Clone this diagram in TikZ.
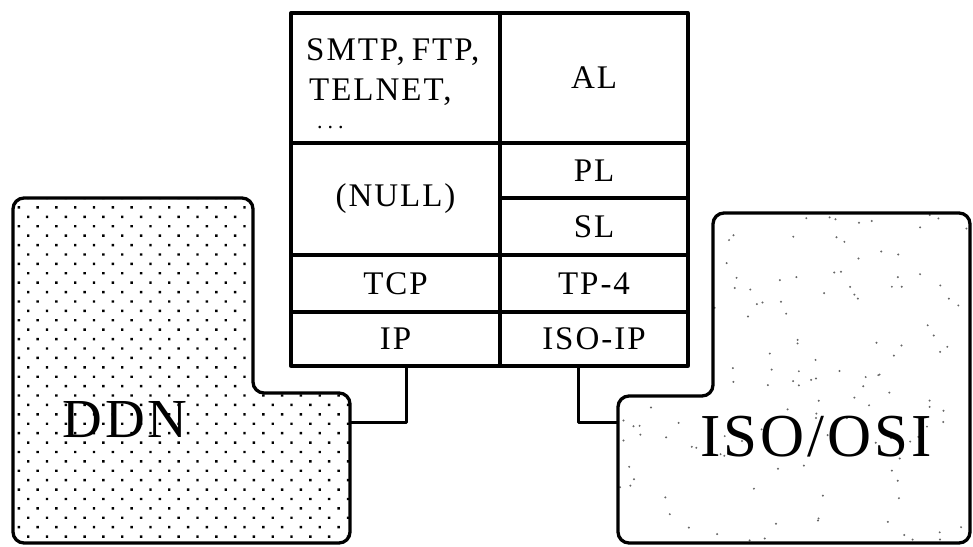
\documentclass[tikz,border=0pt]{standalone}
\usepackage{fontspec}
\setmainfont{Liberation Serif}
\newfontfamily\tabfont[LetterSpace=6]{Liberation Serif}
\newfontfamily\bigfont[LetterSpace=5]{Liberation Serif}
\usetikzlibrary{patterns.meta}
\tikzset{
  cell/.style 2 args={draw, line width=3.3pt, inner sep=0pt, outer sep=0pt,
    anchor=north west, minimum width=#1, minimum height=#2,
    font=\tabfont\fontsize{33}{36}\selectfont},
  celltext/.style={inner sep=0pt, anchor=north west, align=left, font=\tabfont\fontsize{33}{36}\selectfont},
  dotstext/.style={inner sep=0pt, anchor=base west, font=\tabfont\fontsize{22}{22}\selectfont},
  netshape/.style={line width=3.3pt, rounded corners=11pt},
  biglabel/.style={inner sep=0pt, font=\bigfont\fontsize{#1}{#1}\selectfont},
  link/.style={line width=3pt}
}
\begin{document}
\begin{tikzpicture}[x=1pt,y=-1pt,line join=round]
\useasboundingbox (0,0) rectangle (973,546);
\fill[white] (0,0) rectangle (973,546);

% DDN network
\path[netshape, pattern={Dots[distance=13.3pt, angle=45, radius=1.7pt]}]
  (13,370) -- (13,198) -- (253,198) -- (253,393) -- (350,393) -- (350,543) -- (13,543) -- cycle;
\draw[netshape]
  (13,370) -- (13,198) -- (253,198) -- (253,393) -- (350,393) -- (350,543) -- (13,543) -- cycle;
\node[biglabel=55, fill=white, fill opacity=0, text opacity=1] (ddn) at (125,420) {DDN};

% ISO/OSI network
\begin{scope}
  \clip[rounded corners=11pt] (970,370) -- (970,543) -- (618,543) -- (618,396) -- (713,396) -- (713,213) -- (970,213) -- cycle;
  \pgfmathsetseed{11}
  \foreach \i in {1,...,160}{
    \fill[black!60] ({618+rnd*352},{213+rnd*330}) circle (1.1);
  }
\end{scope}
\draw[netshape]
  (970,370) -- (970,543) -- (618,543) -- (618,396) -- (713,396) -- (713,213) -- (970,213) -- cycle;
\node[biglabel=61, fill=white, fill opacity=0, text opacity=1] (iso) at (816,437) {ISO/OSI};

% protocol table
\node[cell={209pt}{130pt}] (app) at (291,13) {};
\node[cell={188pt}{130pt}] (al) at (500,13) {AL};
\node[cell={209pt}{112pt}] (null) at (291,143) {(NULL)};
\node[cell={188pt}{55pt}] (pl) at (500,143) {PL};
\node[cell={188pt}{57pt}] (sl) at (500,198) {SL};
\node[cell={209pt}{57pt}] (tcp) at (291,255) {TCP};
\node[cell={188pt}{57pt}] (tp) at (500,255) {TP-4};
\node[cell={209pt}{54pt}] (ip) at (291,312) {IP};
\node[cell={188pt}{54pt}] (isoip) at (500,312) {ISO-IP};

\node[celltext] (apps) at (306,38) {SMTP,\kern7pt FTP,\\[4pt]\kern3pt TELNET,};
\node[dotstext] (etc) at (317,128) {.\kern5pt.\kern5pt.};

% connectors
\coordinate (ddnport) at (350,422);
\coordinate (isoport) at (618,422);
\draw[link] ([xshift=11pt]ip.south) |- (ddnport);
\draw[link] ([xshift=-16pt]isoip.south) |- (isoport);
\end{tikzpicture}
\end{document}
